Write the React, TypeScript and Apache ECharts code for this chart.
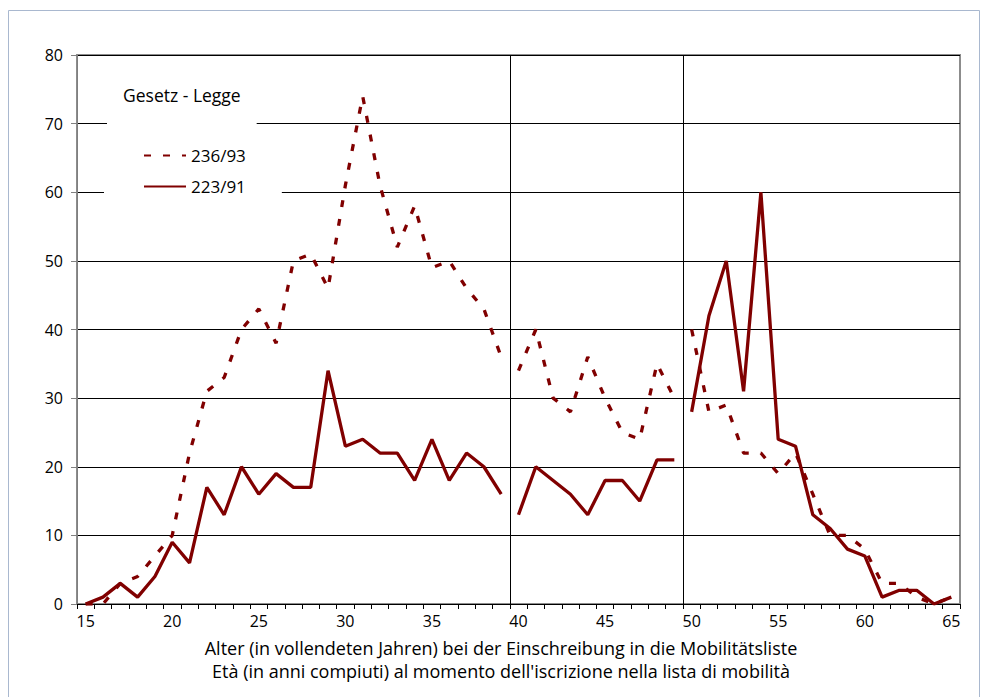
import React, { useEffect, useRef } from 'react';
import * as echarts from 'echarts';

// Age categories (completed years at registration)
const ages = [
  '15', '16', '17', '18', '19', '20', '21', '22', '23', '24',
  '25', '26', '27', '28', '29', '30', '31', '32', '33', '34',
  '35', '36', '37', '38', '39', '40', '41', '42', '43', '44',
  '45', '46', '47', '48', '49', '50', '51', '52', '53', '54',
  '55', '56', '57', '58', '59', '60', '61', '62', '63', '64', '65',
];
const xTickLabels = ['15', '20', '25', '30', '35', '40', '45', '50', '55', '60', '65'];
const periodBoundaries = ['40', '50'];

// Gesetz 236/93 (dashed)
const law236Ages15to39 = [0, 0, 3, 4, 7, 10, 22, 31, 33, 40, 43, 38, 50, 51, 46, 61, 74, 61, 52, 58, 49, 50, 46, 43, 36];
const law236Ages40to49 = [34, 40, 30, 28, 36, 30, 25, 24, 35, 30];
const law236Ages50to65 = [40, 28, 29, 22, 22, 19, 22, 16, 10, 10, 8, 3, 3, 1, 0, 1];

// Gesetz 223/91 (solid)
const law223Ages15to39 = [0, 1, 3, 1, 4, 9, 6, 17, 13, 20, 16, 19, 17, 17, 34, 23, 24, 22, 22, 18, 24, 18, 22, 20, 16];
const law223Ages40to49 = [13, 20, 18, 16, 13, 18, 18, 15, 21, 21];
const law223Ages50to65 = [28, 42, 50, 31, 60, 24, 23, 13, 11, 8, 7, 1, 2, 2, 0, 1];

const FONT = 'Open Sans';
const MAROON = '#800000';

function placeOnAxis(values: number[], firstAge: string): (number | null)[] {
  const start = ages.indexOf(firstAge);
  return ages.map((_, i) => (i >= start && i < start + values.length ? values[i - start] : null));
}

export default function App() {
  const ref = useRef<HTMLDivElement>(null);

  useEffect(() => {
    document.body.style.margin = '0';
    if (!ref.current) return;
    const chart = echarts.init(ref.current, undefined, { renderer: 'svg' });

    const dashedStyle = { color: MAROON, width: 3.3, type: [7, 12] as any, cap: 'butt' as any };
    const solidStyle = { color: MAROON, width: 3.3 };

    const mk = (name: string, values: number[], firstAge: string, lineStyle: any) => ({
      name,
      type: 'line',
      data: placeOnAxis(values, firstAge),
      symbol: 'none',
      showSymbol: false,
      connectNulls: false,
      lineStyle,
      itemStyle: { color: MAROON },
      emphasis: { disabled: true },
    });

    chart.setOption({
      animation: false,
      textStyle: { fontFamily: FONT },
      grid: {
        left: 77,
        right: 21,
        top: 55,
        bottom: 93,
        show: true,
        borderColor: '#8c8c8c',
        borderWidth: 2,
        backgroundColor: 'transparent',
      },
      title: [
        {
          text: 'Gesetz - Legge',
          left: 107,
          top: 72,
          padding: [14, 16, 20, 16],
          backgroundColor: '#ffffff',
          textStyle: { fontSize: 17.5, fontWeight: 'normal', color: '#000', fontFamily: FONT },
        },
      ],
      legend: {
        data: ['236/93', '223/91'],
        orient: 'vertical',
        left: 104,
        top: 132,
        padding: [15, 36, 15, 39],
        itemWidth: 42,
        itemHeight: 14,
        itemGap: 14,
        backgroundColor: '#ffffff',
        selectedMode: false,
        itemStyle: { opacity: 0 },
        textStyle: { fontSize: 17, color: '#000', fontFamily: FONT },
      },
      xAxis: {
        type: 'category',
        data: ages,
        boundaryGap: true,
        axisLine: { show: true, lineStyle: { color: '#000', width: 1 } },
        axisTick: { show: true, interval: 0, length: 5, lineStyle: { color: '#000' } },
        axisLabel: {
          interval: (_i: number, v: string) => xTickLabels.includes(v),
          fontSize: 16,
          color: '#000',
          margin: 9,
          fontFamily: FONT,
        },
        splitLine: {
          show: true,
          interval: (_i: number, v: string) => periodBoundaries.includes(v),
          lineStyle: { color: ['#000', '#000', '#8c8c8c'], width: 1 },
        },
      },
      yAxis: {
        type: 'value',
        min: 0,
        max: 80,
        interval: 10,
        axisLine: { show: true, lineStyle: { color: '#808080', width: 1 } },
        axisTick: { show: true, length: 6, lineStyle: { color: '#808080' } },
        axisLabel: { fontSize: 16, color: '#000', margin: 14, fontFamily: FONT },
        splitLine: { show: true, lineStyle: { color: '#000', width: 1 } },
      },
      graphic: [
        {
          type: 'rect',
          silent: true,
          z: -10,
          shape: { x: 8.5, y: 10.5, width: 971, height: 700 },
          style: { fill: 'none', stroke: '#a9b8cf', lineWidth: 1 },
        },
        {
          type: 'text',
          silent: true,
          x: 501,
          y: 648,
          style: {
            text: 'Alter (in vollendeten Jahren) bei der Einschreibung in die Mobilitätsliste',
            align: 'center',
            verticalAlign: 'middle',
            fontSize: 18,
            fontFamily: FONT,
            fill: '#000',
          },
        },
        {
          type: 'text',
          silent: true,
          x: 501,
          y: 671,
          style: {
            text: "Età (in anni compiuti) al momento dell'iscrizione nella lista di mobilità",
            align: 'center',
            verticalAlign: 'middle',
            fontSize: 18,
            fontFamily: FONT,
            fill: '#000',
          },
        },
      ],
      series: [
        mk('236/93', law236Ages15to39, '15', dashedStyle),
        mk('236/93', law236Ages40to49, '40', dashedStyle),
        mk('236/93', law236Ages50to65, '50', dashedStyle),
        mk('223/91', law223Ages15to39, '15', solidStyle),
        mk('223/91', law223Ages40to49, '40', solidStyle),
        mk('223/91', law223Ages50to65, '50', solidStyle),
      ],
    });

    return () => chart.dispose();
  }, []);

  return <div ref={ref} style={{ width: 981, height: 697 }} />;
}
